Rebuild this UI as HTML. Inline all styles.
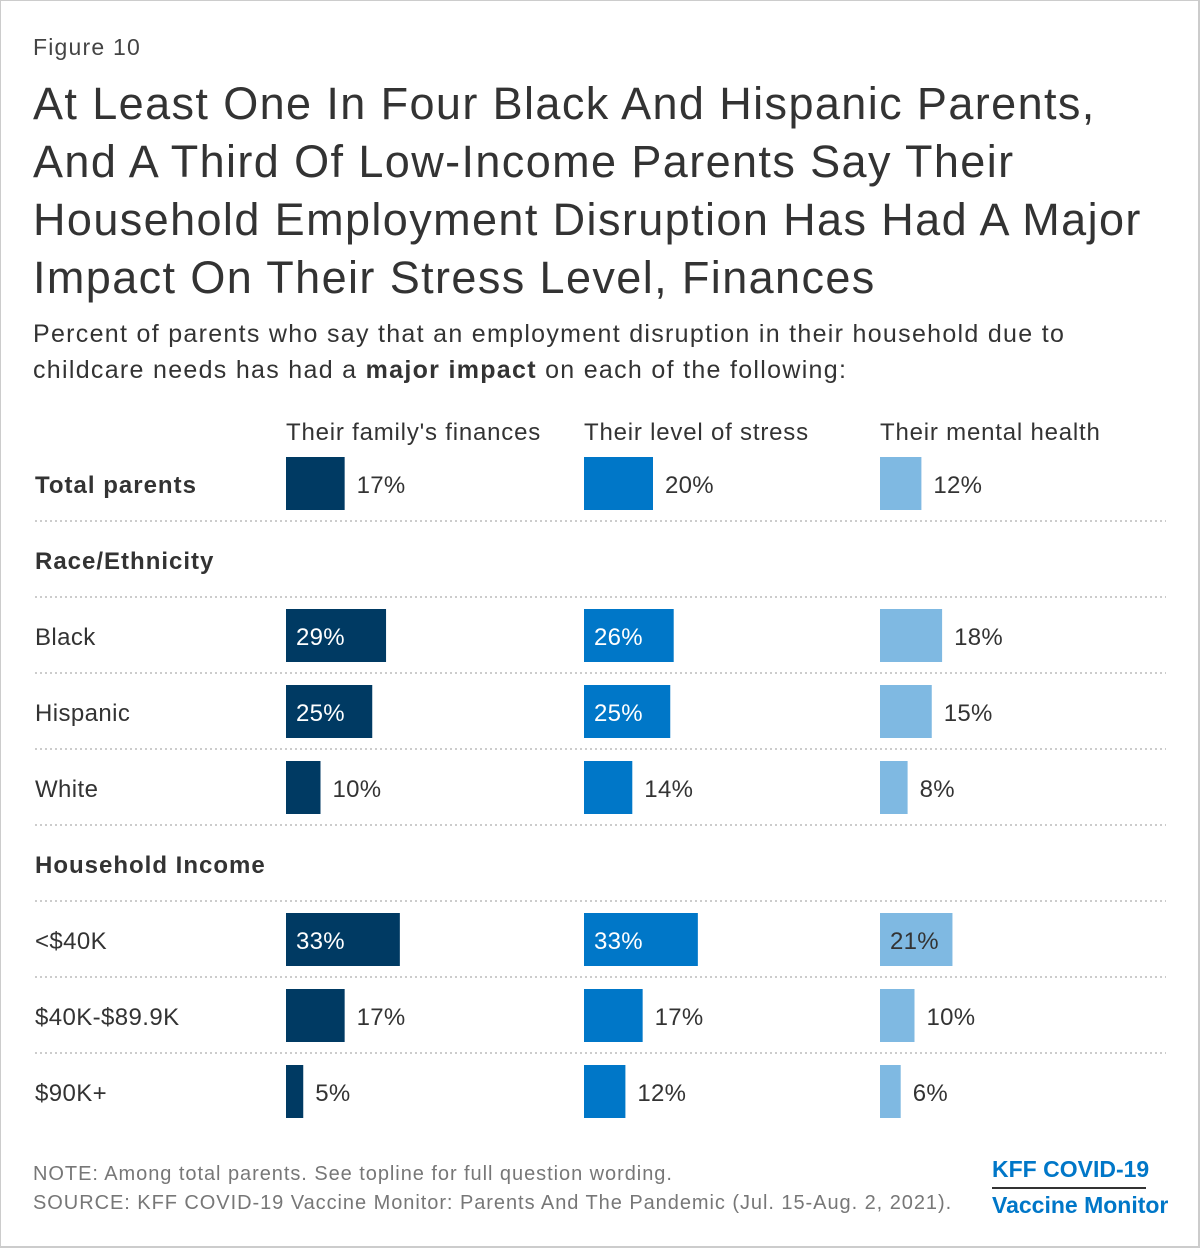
<!DOCTYPE html>
<html><head><meta charset="utf-8"><style>
body{margin:0;width:1200px;height:1248px;background:#fff;font-family:"Liberation Sans",sans-serif;color:#333;position:relative;overflow:hidden}
.frame{position:absolute;left:0;top:0;width:1197px;height:1245px;border:1px solid #ccc;border-right:2px solid #ccc;border-bottom:2px solid #ccc}
.abs{position:absolute;white-space:nowrap}
</style></head><body>
<div class="frame"></div>
<div class="abs" style="left:33px;top:34px;font-size:23px;letter-spacing:1.2px;color:#444">Figure 10</div>
<div class="abs" style="left:33px;top:75px;font-size:45px;line-height:58px;letter-spacing:1.4px;color:#333">At Least One In Four Black And Hispanic Parents,<br>And A Third Of Low-Income Parents Say Their<br>Household Employment Disruption Has Had A Major<br>Impact On Their Stress Level, Finances</div>
<div class="abs" style="left:33px;top:316px;font-size:25px;line-height:36px;letter-spacing:1.3px;color:#333">Percent of parents who say that an employment disruption in their household due to<br>childcare needs has had a <b>major impact</b> on each of the following:</div>
<svg id="chart" width="1200" height="1248" style="position:absolute;left:0;top:0"></svg>
<div class="abs" style="left:33px;top:1160px;font-size:20px;letter-spacing:0.95px;line-height:29px;color:#777">NOTE: Among total parents. See topline for full question wording.<br>SOURCE: KFF COVID-19 Vaccine Monitor: Parents And The Pandemic (Jul. 15-Aug. 2, 2021).</div>
<div class="abs" style="left:992px;top:1153px;font-size:23px;font-weight:bold;color:#0077c8;line-height:32px"><div style="border-bottom:2px solid #333;padding-bottom:2px;width:154px">KFF COVID-19</div><div>Vaccine Monitor</div></div>
<script>
const columns=["Their family's finances","Their level of stress","Their mental health"];
const rowLabels=["Total parents","Race/Ethnicity","Black","Hispanic","White","Household Income","<$40K","$40K-$89.9K","$90K+"];
const rowTypes=["bold","header","row","row","row","header","row","row","row"];
const finances=[17,null,29,25,10,null,33,17,5];
const stress=[20,null,26,25,14,null,33,17,12];
const mental=[12,null,18,15,8,null,21,10,6];
const series=[finances,stress,mental];
const colors=["#003a63","#0077c8","#7fb9e2"];
const insideText=["#fff","#fff","#333"];
const colX=[286,584,880];
const scale=v=>v*3.45;
const NS="http://www.w3.org/2000/svg";
const svg=document.getElementById('chart');
function mk(t,a){const e=document.createElementNS(NS,t);for(const k in a)e.setAttribute(k,a[k]);svg.appendChild(e);return e;}
columns.forEach((c,j)=>{const t=mk('text',{x:colX[j],y:440,'font-size':24,'letter-spacing':0.8,fill:'#333','font-family':'Liberation Sans, sans-serif'});t.textContent=c;

});
rowLabels.forEach((lab,i)=>{
 const y=484+i*76;
 const t=mk('text',{x:35,y:y+9,'font-size':24,'letter-spacing':rowTypes[i]==='row'?0.4:1,fill:'#333','font-weight':rowTypes[i]==='row'?'normal':'bold','font-family':'Liberation Sans, sans-serif'});t.textContent=lab;
 
 
 if(i<rowLabels.length-1){
 const l=mk('line',{x1:35,x2:1166,y1:y+37,y2:y+37,stroke:'#bbb','stroke-width':1.5,'stroke-dasharray':'2,3'});
 
 }
 if(rowTypes[i]==='header')return;
 series.forEach((s,j)=>{const v=s[i];const w=scale(v);
  const r=mk('rect',{x:colX[j],y:y-27,width:w,height:53,fill:colors[j]});
  
  
  const inside=v>20;
  const tx=mk('text',{x:inside?colX[j]+10:colX[j]+w+12,y:y+9,'font-size':24,'letter-spacing':0.3,fill:inside?insideText[j]:'#333','font-family':'Liberation Sans, sans-serif'});
  tx.textContent=v+'%';
  
  
 });
});
</script>
</body></html>
